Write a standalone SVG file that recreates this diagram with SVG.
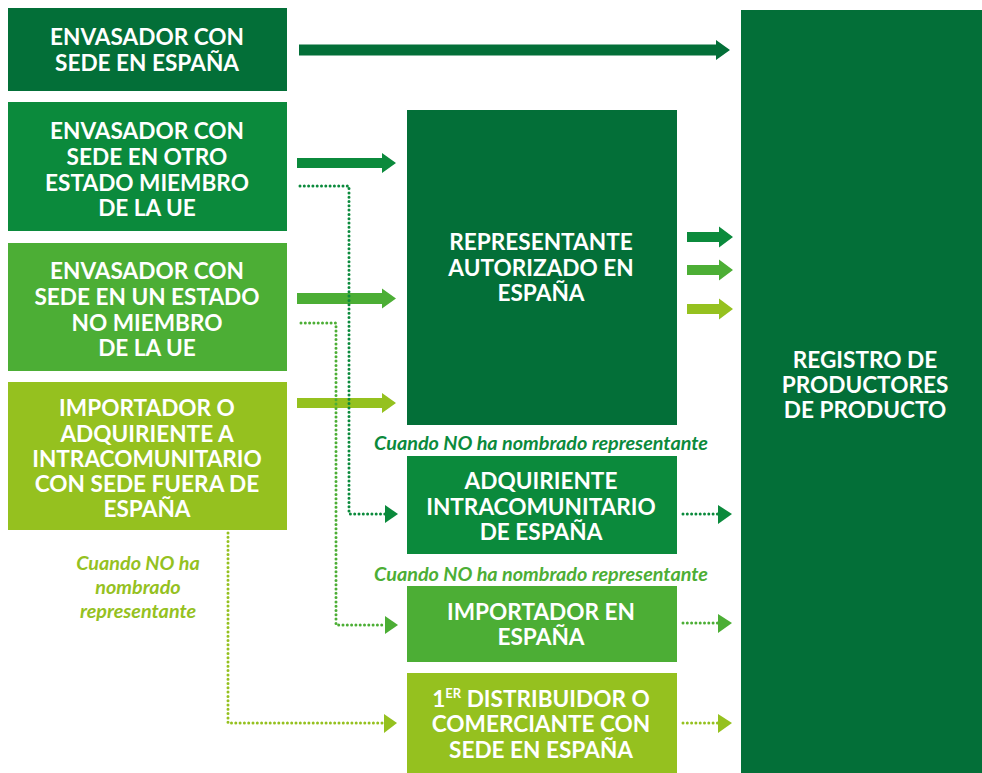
<svg xmlns="http://www.w3.org/2000/svg" width="982" height="773" viewBox="0 0 982 773">
<style>
.t{font-family:Lato,"Open Sans","Liberation Sans",sans-serif;font-weight:700;font-size:22.6px;fill:#fff;text-anchor:middle}
.i{font-family:Lato,"Open Sans","Liberation Sans",sans-serif;font-weight:700;font-style:italic;font-size:19.8px;text-anchor:middle}
.d{fill:none;stroke-width:3;stroke-linecap:round;stroke-dasharray:0 4.3}
.c1{fill:#036f38}.c2{fill:#0b8a3c}.c3{fill:#4cae35}.c4{fill:#95c11f}
</style>
<rect width="982" height="773" fill="#fff"/>
<g id="n1"><rect x="8" y="8" width="279" height="83" class="c1"/><text class="t" x="147" y="45">ENVASADOR CON</text><text class="t" x="147" y="71">SEDE EN ESPAÑA</text></g>
<g id="n2"><rect x="8" y="102" width="279" height="129" class="c2"/><text class="t" x="147" y="139">ENVASADOR CON</text><text class="t" x="147" y="165">SEDE EN OTRO</text><text class="t" x="147" y="191">ESTADO MIEMBRO</text><text class="t" x="147" y="216">DE LA UE</text></g>
<g id="n3"><rect x="8" y="243" width="279" height="128" class="c3"/><text class="t" x="147" y="279">ENVASADOR CON</text><text class="t" x="147" y="305">SEDE EN UN ESTADO</text><text class="t" x="147" y="331">NO MIEMBRO</text><text class="t" x="147" y="356">DE LA UE</text></g>
<g id="n4"><rect x="8" y="382" width="279" height="148" class="c4"/><text class="t" x="147" y="416">IMPORTADOR O</text><text class="t" x="147" y="442">ADQUIRIENTE A</text><text class="t" x="147" y="467">INTRACOMUNITARIO</text><text class="t" x="147" y="492">CON SEDE FUERA DE</text><text class="t" x="147" y="517">ESPAÑA</text></g>
<g id="rep"><rect x="407" y="110" width="270" height="315" class="c1"/><text class="t" x="541" y="250">REPRESENTANTE</text><text class="t" x="541" y="276">AUTORIZADO EN</text><text class="t" x="541" y="301">ESPAÑA</text></g>
<g id="adq"><rect x="407" y="456" width="270" height="98" class="c2"/><text class="t" x="541" y="489">ADQUIRIENTE</text><text class="t" x="541" y="515">INTRACOMUNITARIO</text><text class="t" x="541" y="540">DE ESPAÑA</text></g>
<g id="imp"><rect x="407" y="586" width="270" height="76" class="c3"/><text class="t" x="541" y="620">IMPORTADOR EN</text><text class="t" x="541" y="645">ESPAÑA</text></g>
<g id="dist"><rect x="407" y="673" width="270" height="100" class="c4"/><text class="t" x="541" y="707">1<tspan font-size="13" dy="-9">ER</tspan><tspan dy="9"> DISTRIBUIDOR O</tspan></text><text class="t" x="541" y="732">COMERCIANTE CON</text><text class="t" x="541" y="758">SEDE EN ESPAÑA</text></g>
<g id="reg"><rect x="741" y="10" width="241" height="763" class="c1"/><text class="t" x="865" y="368">REGISTRO DE</text><text class="t" x="865" y="393">PRODUCTORES</text><text class="t" x="865" y="418">DE PRODUCTO</text></g>
<g id="labels">
<text class="i" x="541" y="450" fill="#0b8a3c">Cuando NO ha nombrado representante</text>
<text class="i" x="541" y="581" fill="#4cae35">Cuando NO ha nombrado representante</text>
<text class="i" x="138" y="570" fill="#95c11f">Cuando NO ha</text>
<text class="i" x="138" y="594" fill="#95c11f">nombrado</text>
<text class="i" x="138" y="618" fill="#95c11f">representante</text>
</g>
<g id="connectors">
<polygon class="c1" points="299,44.5 716,44.5 716,40 730,50 716,60 716,55.5 299,55.5"/>
<polygon class="c2" points="297,158 382,158 382,153 396,163 382,173 382,168 297,168"/>
<polygon class="c3" points="297,293 382,293 382,288.5 396,298.5 382,308.5 382,304 297,304"/>
<polygon class="c4" points="297,398 382,398 382,393 396,403 382,413 382,408 297,408"/>
<polygon class="c2" points="687,232 719,232 719,226.5 733,237 719,247.5 719,242 687,242"/>
<polygon class="c3" points="687,265 719,265 719,259.5 733,270 719,280.5 719,275 687,275"/>
<polygon class="c4" points="687,304 719,304 719,298.5 733,309 719,319.5 719,314 687,314"/>
<polyline class="d" stroke="#0b8a3c" points="300,186 349,186 349,514 385,514"/>
<polygon class="c2" points="385,505 398,514 385,523"/>
<polyline class="d" stroke="#4cae35" points="301,323 336,323 336,625 385,625"/>
<polygon class="c3" points="385,616 398,625 385,634"/>
<polyline class="d" stroke="#95c11f" points="228,533 228,723 384,723"/>
<polygon class="c4" points="384,714 397,723 384,733"/>
<line class="d" stroke="#0b8a3c" x1="683" y1="514" x2="718" y2="514"/>
<polygon class="c2" points="718,505 732,514 718,524"/>
<line class="d" stroke="#4cae35" x1="683" y1="623" x2="718" y2="623"/>
<polygon class="c3" points="718,614 732,623 718,633"/>
<line class="d" stroke="#95c11f" x1="683" y1="723" x2="718" y2="723"/>
<polygon class="c4" points="718,714 732,723 718,733"/>
</g>
</svg>
